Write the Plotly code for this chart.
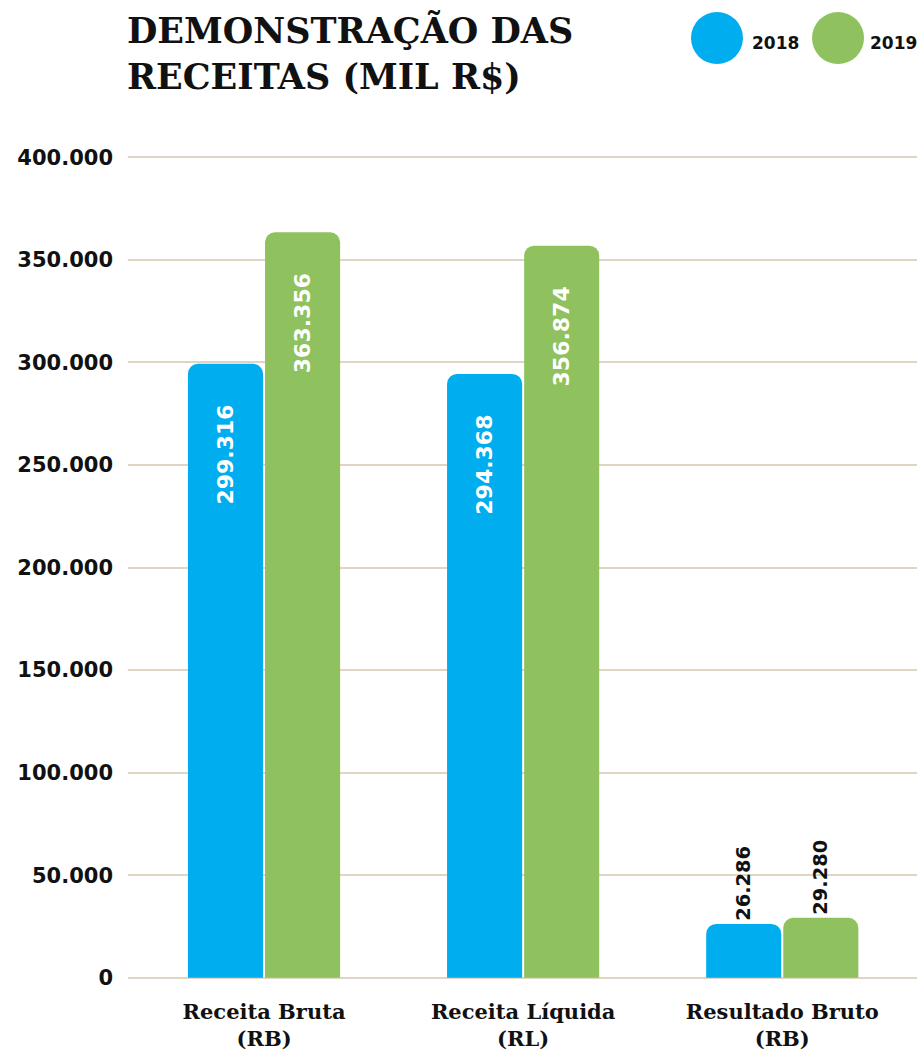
import plotly.graph_objects as go

categories = ["Receita Bruta<br>(RB)", "Receita Líquida<br>(RL)", "Resultado Bruto<br>(RB)"]
values_2018 = [299316, 294368, 26286]
values_2019 = [363356, 356874, 29280]
labels_2018 = ["299.316", "294.368", "26.286"]
labels_2019 = ["363.356", "356.874", "29.280"]
text_pos = ["inside", "inside", "outside"]
y_tickvals = [0, 50000, 100000, 150000, 200000, 250000, 300000, 350000, 400000]
y_ticktext = ["0", "50.000", "100.000", "150.000", "200.000", "250.000", "300.000", "350.000", "400.000"]
series_names = ["2018", "2019"]

BLUE = "#00adef"
GREEN = "#8fc25e"
GRID = "#e0d5c3"
INK = "#111111"
SANS = "DejaVu Sans"
SERIF = "DejaVu Serif"
PAD = "\u00a0" * 4

fig = go.Figure()
for name, vals, labs, col in [(series_names[0], values_2018, labels_2018, BLUE),
                              (series_names[1], values_2019, labels_2019, GREEN)]:
    fig.add_trace(go.Bar(
        name=name, x=categories, y=vals,
        text=[l + PAD if p == "inside" else l for l, p in zip(labs, text_pos)],
        textposition=text_pos, textangle=-90, insidetextanchor="end",
        insidetextfont=dict(family=SANS, size=22, color="white", weight="bold"),
        outsidetextfont=dict(family=SANS, size=22, color=INK, weight="bold"),
        marker=dict(color=col, line=dict(width=0)),
        cliponaxis=False, showlegend=False,
    ))

fig.update_layout(
    width=917, height=1052,
    margin=dict(l=128, r=0, t=151, b=68),
    paper_bgcolor="white", plot_bgcolor="white",
    barmode="group", bargap=0.405, bargroupgap=0.026,
    barcornerradius=10,
    xaxis=dict(range=[-0.525, 2.52], showgrid=False, showline=False, zeroline=False,
               ticks="", ticklabelstandoff=13,
               tickfont=dict(family=SERIF, size=21, color=INK, weight="bold")),
    yaxis=dict(range=[-3000, 403000], tickvals=y_tickvals, ticktext=y_ticktext,
               showgrid=True, gridcolor=GRID, gridwidth=2, zeroline=False, showline=False,
               ticks="", ticklabelstandoff=14,
               tickfont=dict(family=SANS, size=21, color=INK, weight="bold")),
    annotations=[
        dict(text="DEMONSTRAÇÃO DAS<br>RECEITAS (MIL R$)", xref="paper", yref="paper",
             x=0, y=1, xanchor="left", yanchor="bottom", yshift=52, xshift=-3, align="left",
             showarrow=False, font=dict(family=SERIF, size=35, color=INK, weight="bold")),
        dict(text=series_names[0], xref="paper", yref="paper", x=0.7883, y=1, xanchor="left",
             yanchor="middle", yshift=108, showarrow=False,
             font=dict(family=SANS, size=17, color=INK, weight="bold")),
        dict(text=series_names[1], xref="paper", yref="paper", x=0.9379, y=1, xanchor="left",
             yanchor="middle", yshift=108, showarrow=False,
             font=dict(family=SANS, size=17, color=INK, weight="bold")),
    ],
    shapes=[
        dict(type="circle", xref="paper", yref="paper", xsizemode="pixel", ysizemode="pixel",
             xanchor=0.7465, yanchor=1, x0=-26, x1=26, y0=87, y1=139,
             fillcolor=BLUE, line=dict(width=0)),
        dict(type="circle", xref="paper", yref="paper", xsizemode="pixel", ysizemode="pixel",
             xanchor=0.8999, yanchor=1, x0=-26, x1=26, y0=87, y1=139,
             fillcolor=GREEN, line=dict(width=0)),
    ],
)

fig.write_html("out.html", config={"displayModeBar": False},
               post_script="document.body.style.margin='0';document.body.style.overflow='hidden';")
